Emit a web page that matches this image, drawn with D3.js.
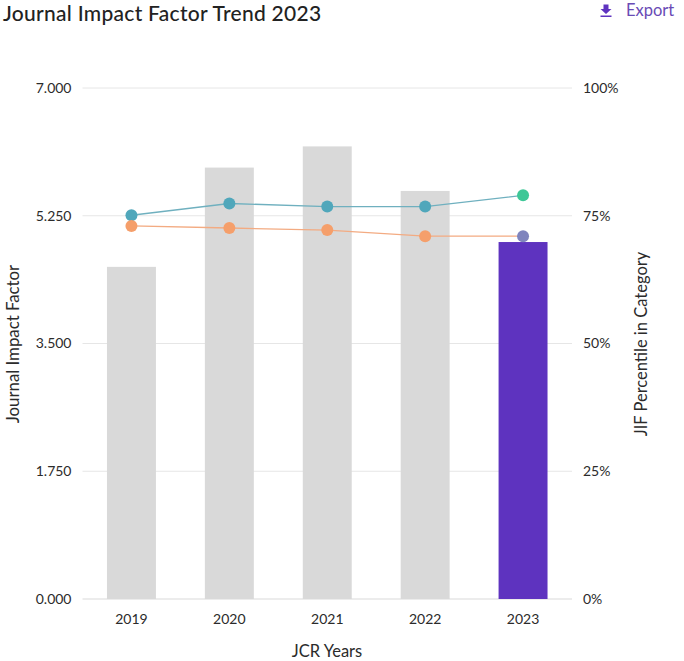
<!DOCTYPE html>
<html>
<head>
<meta charset="utf-8">
<script src="https://cdn.jsdelivr.net/npm/d3@7"></script>
<style>
  html, body { margin: 0; padding: 0; background: #fff; }
  svg { display: block; font-family: Lato, "Open Sans", sans-serif; }
</style>
</head>
<body>
<div id="chart"></div>
<script>
const years = ["2019", "2020", "2021", "2022", "2023"];
const jif = [4.55, 5.91, 6.2, 5.59, 4.89];
const jifPercentile = [75.1, 77.4, 76.8, 76.8, 79.0];
const jciPercentile = [73.0, 72.6, 72.2, 71.0, 71.0];
const leftTicks = [0, 1.75, 3.5, 5.25, 7];
const rightTicks = [0, 25, 50, 75, 100];

const w = 684;
const h = 661;
const plotLeft = 82.5, plotRight = 572, plotTop = 88, plotBottom = 599;
const textColor = "#2b2b2b";

const svg = d3.select("#chart").append("svg")
  .attr("width", w)
  .attr("height", h);

const x = d3.scaleBand().domain(years).range([plotLeft, plotRight]).paddingInner(0.5).paddingOuter(0.25);
const yBar = d3.scaleLinear().domain([0, 7]).range([plotBottom, plotTop]);
const yPct = d3.scaleLinear().domain([0, 100]).range([plotBottom, plotTop]);
const cx = d => x(d) + x.bandwidth() / 2;

// gridlines
svg.append("g").selectAll("line")
  .data(leftTicks)
  .enter()
  .append("line")
  .attr("x1", plotLeft)
  .attr("x2", plotRight)
  .attr("y1", d => yBar(d))
  .attr("y2", d => yBar(d))
  .attr("stroke", "#e6e6e6")
  .attr("stroke-width", d => d === 0 ? 1.6 : 1);

// bars
svg.append("g").selectAll("rect")
  .data(years)
  .enter()
  .append("rect")
  .attr("x", d => x(d))
  .attr("width", x.bandwidth())
  .attr("y", (d, i) => yBar(jif[i]))
  .attr("height", (d, i) => plotBottom - yBar(jif[i]))
  .attr("fill", d => d === "2023" ? "#5e33bf" : "#d9d9d9");

// axes
const axisLeft = svg.append("g")
  .attr("transform", `translate(${plotLeft},0)`)
  .call(d3.axisLeft(yBar).tickValues(leftTicks).tickFormat(d3.format(".3f")).tickSize(0).tickPadding(11));
const axisRight = svg.append("g")
  .attr("transform", `translate(${plotRight},0)`)
  .call(d3.axisRight(yPct).tickValues(rightTicks).tickFormat(d => d + "%").tickSize(0).tickPadding(11));
const axisBottom = svg.append("g")
  .attr("transform", `translate(0,${plotBottom})`)
  .call(d3.axisBottom(x).tickSize(0).tickPadding(15));

[axisLeft, axisRight, axisBottom].forEach(a => {
  a.select(".domain").remove();
  a.selectAll("text")
    .attr("font-size", 14)
    .attr("font-family", "Lato, sans-serif")
    .attr("fill", textColor);
});

// percentile lines
const lineOf = values => d3.line()
  .x(d => cx(d))
  .y((d, i) => yPct(values[i]))(years);

svg.append("path")
  .attr("d", lineOf(jifPercentile))
  .attr("fill", "none")
  .attr("stroke", "#6fb0bf")
  .attr("stroke-width", 1.3);

svg.append("path")
  .attr("d", lineOf(jciPercentile))
  .attr("fill", "none")
  .attr("stroke", "#f3ab82")
  .attr("stroke-width", 1.3);

svg.append("g").selectAll("circle")
  .data(years)
  .enter()
  .append("circle")
  .attr("cx", d => cx(d))
  .attr("cy", (d, i) => yPct(jifPercentile[i]))
  .attr("r", 6)
  .attr("fill", d => d === "2023" ? "#3ec797" : "#50a7bb");

svg.append("g").selectAll("circle")
  .data(years)
  .enter()
  .append("circle")
  .attr("cx", d => cx(d))
  .attr("cy", (d, i) => yPct(jciPercentile[i]))
  .attr("r", 6)
  .attr("fill", d => d === "2023" ? "#7f84bd" : "#f59f6b");

// titles
svg.append("text")
  .attr("x", 3)
  .attr("y", 21)
  .attr("font-size", 21)
  .attr("font-weight", 500)
  .attr("letter-spacing", 0.28)
  .attr("fill", "#222")
  .text("Journal Impact Factor Trend 2023");

svg.append("text")
  .attr("x", 626)
  .attr("y", 16)
  .attr("font-size", 16.5)
  .attr("fill", "#6a4bb5")
  .text("Export");

// export icon
svg.append("path")
  .attr("d", "M603.5 4.5h5v4.5h3l-5.5 5-5.5-5h3zM600.5 15.5h11v1.5h-11z")
  .attr("fill", "#5e33bf");

svg.append("text")
  .attr("x", 327)
  .attr("y", 657)
  .attr("text-anchor", "middle")
  .attr("font-size", 16.5)
  .attr("fill", textColor)
  .text("JCR Years");

svg.append("text")
  .attr("transform", "translate(19,344) rotate(-90)")
  .attr("text-anchor", "middle")
  .attr("font-size", 16.8)
  .attr("fill", textColor)
  .text("Journal Impact Factor");

svg.append("text")
  .attr("transform", "translate(647,344) rotate(-90)")
  .attr("text-anchor", "middle")
  .attr("font-size", 16.5)
  .attr("fill", textColor)
  .text("JIF Percentile in Category");
</script>
</body>
</html>
